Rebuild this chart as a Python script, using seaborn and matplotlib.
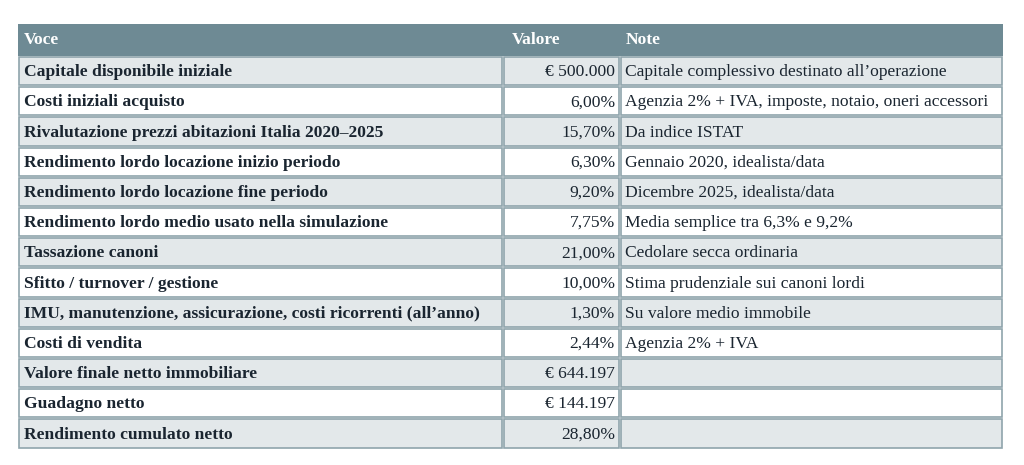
import matplotlib
matplotlib.use("Agg")
import matplotlib.pyplot as plt
import seaborn as sns

voci = [
    "Capitale disponibile iniziale",
    "Costi iniziali acquisto",
    "Rivalutazione prezzi abitazioni Italia 2020–2025",
    "Rendimento lordo locazione inizio periodo",
    "Rendimento lordo locazione fine periodo",
    "Rendimento lordo medio usato nella simulazione",
    "Tassazione canoni",
    "Sfitto / turnover / gestione",
    "IMU, manutenzione, assicurazione, costi ricorrenti (all’anno)",
    "Costi di vendita",
    "Valore finale netto immobiliare",
    "Guadagno netto",
    "Rendimento cumulato netto",
]
valori = ["€ 500.000", "6,00%", "15,70%", "6,30%", "9,20%", "7,75%", "21,00%",
          "10,00%", "1,30%", "2,44%", "€ 644.197", "€ 144.197", "28,80%"]
note = [
    "Capitale complessivo destinato all’operazione",
    "Agenzia 2% + IVA, imposte, notaio, oneri accessori",
    "Da indice ISTAT",
    "Gennaio 2020, idealista/data",
    "Dicembre 2025, idealista/data",
    "Media semplice tra 6,3% e 9,2%",
    "Cedolare secca ordinaria",
    "Stima prudenziale sui canoni lordi",
    "Su valore medio immobile",
    "Agenzia 2% + IVA",
    "", "", "",
]
intestazioni = ["Voce", "Valore", "Note"]

sns.set_theme(style="white")
plt.rcParams["font.family"] = ["Liberation Serif", "DejaVu Serif"]

W, H = 1024, 465
fig = plt.figure(figsize=(W / 100, H / 100), dpi=100)
ax = fig.add_axes([0, 0, 1, 1])
ax.set_xlim(0, W)
ax.set_ylim(H, 0)
ax.axis("off")

x0, x1, x2, x3 = 18, 503, 620, 1003
top, head_h, row_h = 24, 32, 30.2
header_col = "#6E8A94"
border = "#8FA4AC"
stripe = "#E3E8EA"
fs = 12.6

ax.add_patch(plt.Rectangle((x0, top), x3 - x0, head_h, color=header_col, lw=0))
for txt, x in zip(intestazioni, [x0 + 6, x2 - 108, x2 + 6]):
    ax.text(x, top + head_h / 2, txt, color="white", fontsize=fs,
            fontweight="bold", va="center", ha="left")

for i, (v, val, n) in enumerate(zip(voci, valori, note)):
    y = top + head_h + i * row_h
    fc = stripe if i % 2 == 0 else "white"
    for a, b in [(x0, x1), (x1, x2), (x2, x3)]:
        ax.add_patch(plt.Rectangle((a + 1, y + 1), b - a - 2, row_h - 2,
                                   facecolor=fc, edgecolor=border, lw=1.2))
    yc = y + row_h / 2 + 1
    ax.text(x0 + 6, yc, v, fontsize=fs, fontweight="bold", color="#1a2530",
            va="center", ha="left")
    ax.text(x2 - 5, yc, val, fontsize=fs, color="#1a2530", va="center", ha="right")
    ax.text(x2 + 5, yc, n, fontsize=fs, color="#1a2530", va="center", ha="left")

fig.savefig("out.png", dpi=100)
